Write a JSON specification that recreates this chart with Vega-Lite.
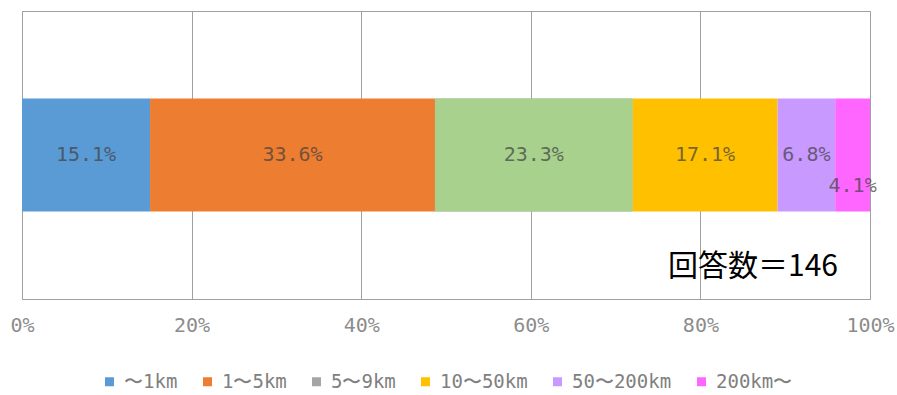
{
  "$schema": "https://vega.github.io/schema/vega-lite/v6.json",
  "width": 848,
  "height": 288,
  "autosize": {"type": "none"},
  "padding": {"left": 22, "top": 11, "right": 27, "bottom": 96},
  "background": "white",
  "datasets": {
    "dist": [
      {"g": "all", "cat": "〜1km", "value": 15.1, "ord": 1},
      {"g": "all", "cat": "1〜5km", "value": 33.6, "ord": 2},
      {"g": "all", "cat": "5〜9km", "value": 23.3, "ord": 3},
      {"g": "all", "cat": "10〜50km", "value": 17.1, "ord": 4},
      {"g": "all", "cat": "50〜200km", "value": 6.8, "ord": 5},
      {"g": "all", "cat": "200km〜", "value": 4.1, "ord": 6}
    ]
  },
  "data": {"name": "dist"},
  "encoding": {
    "y": {
      "field": "g",
      "type": "nominal",
      "axis": null,
      "scale": {"paddingInner": 0, "paddingOuter": 0.774}
    }
  },
  "layer": [
    {
      "transform": [
        {"stack": "value", "groupby": ["g"], "sort": [{"field": "ord"}], "as": ["x0", "x1"]}
      ],
      "mark": {"type": "bar"},
      "encoding": {
        "x": {
          "field": "x0",
          "type": "quantitative",
          "scale": {"domain": [0, 100], "nice": false},
          "axis": {
            "values": [0, 20, 40, 60, 80, 100],
            "labelExpr": "datum.value + '%'",
            "title": null,
            "domain": false,
            "ticks": false,
            "grid": true,
            "gridColor": "#a0a0a0",
            "gridWidth": 1,
            "labelFont": "DejaVu Sans Mono",
            "labelFontSize": 20,
            "labelColor": "#8c8c8c",
            "labelPadding": 16,
            "labelFlush": false
          }
        },
        "x2": {"field": "x1"},
        "color": {
          "field": "cat",
          "type": "nominal",
          "scale": {
            "domain": ["〜1km", "1〜5km", "5〜9km", "10〜50km", "50〜200km", "200km〜"],
            "range": ["#5B9BD5", "#ED7D31", "#A5A5A5", "#FFC000", "#C899FF", "#FF66FF"]
          },
          "legend": {
            "title": null,
            "orient": "none",
            "legendX": 78,
            "legendY": 361,
            "padding": 0,
            "direction": "horizontal",
            "symbolType": "square",
            "symbolSize": 81,
            "symbolStrokeWidth": 0,
            "labelFont": "DejaVu Sans Mono",
            "labelFontSize": 19,
            "labelColor": "#808080",
            "labelOffset": 5,
            "columnPadding": 20
          }
        }
      }
    },
    {
      "transform": [
        {"stack": "value", "groupby": ["g"], "sort": [{"field": "ord"}], "as": ["x0", "x1"]},
        {"filter": "datum.cat === '5〜9km'"}
      ],
      "mark": {"type": "bar", "color": "#A9D18E"},
      "encoding": {
        "x": {"field": "x0", "type": "quantitative"},
        "x2": {"field": "x1"}
      }
    },
    {
      "transform": [
        {"stack": "value", "groupby": ["g"], "sort": [{"field": "ord"}], "as": ["x0", "x1"]},
        {"calculate": "(datum.x0 + datum.x1) / 2", "as": "mid"},
        {"calculate": "format(datum.value, '.1f') + '%'", "as": "label"},
        {"filter": "datum.cat !== '200km〜'"}
      ],
      "mark": {"type": "text", "font": "DejaVu Sans Mono", "fontSize": 20, "color": "#404040", "opacity": 0.7},
      "encoding": {
        "x": {"field": "mid", "type": "quantitative"},
        "text": {"field": "label"}
      }
    },
    {
      "transform": [
        {"stack": "value", "groupby": ["g"], "sort": [{"field": "ord"}], "as": ["x0", "x1"]},
        {"calculate": "(datum.x0 + datum.x1) / 2", "as": "mid"},
        {"calculate": "format(datum.value, '.1f') + '%'", "as": "label"},
        {"filter": "datum.cat === '200km〜'"}
      ],
      "mark": {"type": "text", "font": "DejaVu Sans Mono", "fontSize": 20, "color": "#404040", "opacity": 0.7, "dy": 31},
      "encoding": {
        "x": {"field": "mid", "type": "quantitative"},
        "text": {"field": "label"}
      }
    },
    {
      "data": {"values": [{"g": "all", "note": "回答数＝146", "pos": 86.2}]},
      "mark": {"type": "text", "font": "Noto Sans CJK JP", "fontSize": 30, "color": "#000000", "dy": 112},
      "encoding": {
        "x": {"field": "pos", "type": "quantitative"},
        "text": {"field": "note"}
      }
    }
  ],
  "config": {
    "view": {"stroke": "#a0a0a0", "strokeWidth": 1}
  }
}
